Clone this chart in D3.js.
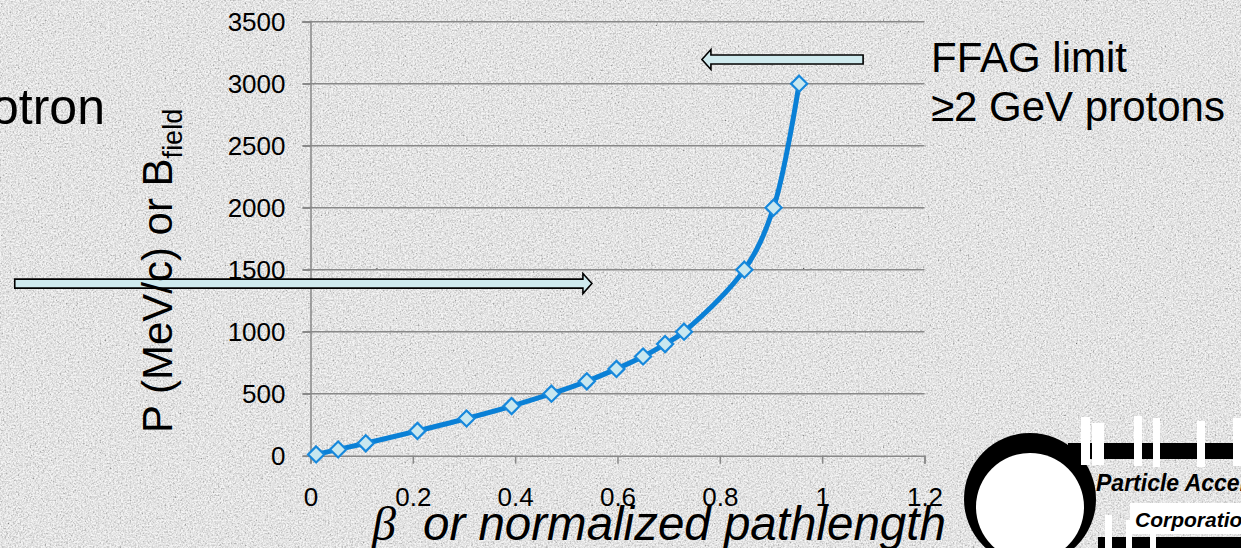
<!DOCTYPE html>
<html>
<head>
<meta charset="utf-8">
<script src="https://cdn.jsdelivr.net/npm/d3@7"></script>
<style>
  html, body { margin: 0; padding: 0; background: #e2e2e2; }
  svg { display: block; }
</style>
</head>
<body>
<svg id="chart" width="1241" height="548"></svg>
<script>
// ---- data ----
const betaValues = [0.011, 0.054, 0.108, 0.209, 0.305, 0.393, 0.471, 0.540, 0.598, 0.650, 0.693, 0.730, 0.848, 0.905, 0.955];
const momentumValues = [10, 50, 100, 200, 300, 400, 500, 600, 700, 800, 900, 1000, 1500, 2000, 3000];
const xTickValues = [0, 0.2, 0.4, 0.6, 0.8, 1.0, 1.2];
const xTickLabels = ["0", "0.2", "0.4", "0.6", "0.8", "1", "1.2"];
const yTickValues = [0, 500, 1000, 1500, 2000, 2500, 3000, 3500];
const yTickLabels = ["0", "500", "1000", "1500", "2000", "2500", "3000", "3500"];
// annotation arrows in data units: [x start, x end (tip), y]
const cyclotronArrow = [-0.578, 0.550, 1388];
const ffagArrow = [1.080, 0.765, 3195];
const ffagLines = ["FFAG limit", "\u22652 GeV protons"];
const leftLabel = "Synchrotron";

// ---- layout ----
const W = 1241, H = 548;
const x = d3.scaleLinear().domain([0, 1.2]).range([310.5, 924.5]);
const y = d3.scaleLinear().domain([0, 3500]).range([455.7, 21.7]);
const FONT = "'Liberation Sans', Arial, sans-serif";

const svg = d3.select("#chart");
const defs = svg.append("defs");

// textured stone-like background
const f = defs.append("filter").attr("id", "grain").attr("x", 0).attr("y", 0).attr("width", "100%").attr("height", "100%");
f.append("feTurbulence").attr("type", "fractalNoise").attr("baseFrequency", 0.6).attr("numOctaves", 3).attr("seed", 7).attr("result", "n");
f.append("feColorMatrix").attr("in", "n").attr("type", "matrix")
  .attr("values", "0.8 0.8 0.8 0 -0.45  0.8 0.8 0.8 0 -0.45  0.8 0.8 0.8 0 -0.45  0 0 0 0 0.6");
svg.append("rect").attr("width", W).attr("height", H).attr("fill", "#e6e6e6");
svg.append("rect").attr("width", W).attr("height", H).attr("filter", "url(#grain)");

// gridlines
svg.append("g").selectAll("line").data(yTickValues.filter(v => v > 0)).join("line")
  .attr("x1", x(0) - 8).attr("x2", x(1.2))
  .attr("y1", d => y(d)).attr("y2", d => y(d))
  .attr("stroke", "#888888").attr("stroke-width", 1.5);

// y axis
const yAxis = d3.axisLeft(y).tickValues(yTickValues).tickFormat((d, i) => yTickLabels[i]).tickSize(8).tickPadding(17);
const gy = svg.append("g").attr("transform", `translate(${x(0)},0)`).call(yAxis);
gy.select(".domain").attr("stroke", "#888888").attr("stroke-width", 1.5);
gy.selectAll(".tick line").attr("stroke", "#888888").attr("stroke-width", 1.5);
gy.selectAll(".tick text").attr("font-family", FONT).attr("font-size", 26).attr("fill", "#000");

// x axis
const xAxis = d3.axisBottom(x).tickValues(xTickValues).tickFormat((d, i) => xTickLabels[i]).tickSize(8).tickPadding(24);
const gx = svg.append("g").attr("transform", `translate(0,${y(0)})`).call(xAxis);
gx.select(".domain").attr("stroke", "#888888").attr("stroke-width", 1.5);
gx.selectAll(".tick line").attr("stroke", "#888888").attr("stroke-width", 1.5);
gx.selectAll(".tick text").attr("font-family", FONT).attr("font-size", 26).attr("fill", "#000");

// series line (smoothed)
const pts = betaValues.map((b, i) => [b, momentumValues[i]]);
const line = d3.line().x(d => x(d[0])).y(d => y(d[1])).curve(d3.curveCatmullRom.alpha(0.5));
svg.append("path").attr("d", line(pts)).attr("fill", "none")
  .attr("stroke", "#0a80d6").attr("stroke-width", 5).attr("stroke-linejoin", "round");

// diamond markers
const diamond = d3.symbol().type(d3.symbolDiamond2).size(165);
svg.append("g").selectAll("path").data(pts).join("path")
  .attr("d", diamond)
  .attr("transform", d => `translate(${x(d[0])},${y(d[1])})`)
  .attr("fill", "#c8e7ef").attr("stroke", "#1688dc").attr("stroke-width", 2.2);

// block arrows
function blockArrow(a) {
  const x0 = x(a[0]), x1 = x(a[1]), yc = y(a[2]);
  const dir = x1 > x0 ? 1 : -1;
  const bh = 4.5, hh = 10, hl = 9;
  const xb = x1 - dir * hl;
  return `M${x0},${yc - bh} L${xb},${yc - bh} L${xb},${yc - hh} L${x1},${yc} L${xb},${yc + hh} L${xb},${yc + bh} L${x0},${yc + bh} Z`;
}
svg.append("path").attr("d", blockArrow(cyclotronArrow))
  .attr("fill", "#cfeaee").attr("stroke", "#000").attr("stroke-width", 1.6).attr("stroke-linejoin", "miter");
svg.append("path").attr("d", blockArrow(ffagArrow))
  .attr("fill", "#cfeaee").attr("stroke", "#000").attr("stroke-width", 1.6).attr("stroke-linejoin", "miter");

// y axis title
const yt = svg.append("text").attr("transform", "translate(172,433) rotate(-90)")
  .attr("font-family", FONT).attr("font-size", 42).attr("fill", "#000");
yt.append("tspan").text("P (MeV/c) or B");
yt.append("tspan").attr("font-size", 27).attr("dy", 10).text("field");

// x axis title
svg.append("text").attr("x", 372).attr("y", 540)
  .attr("font-family", "'Liberation Serif', 'DejaVu Serif', serif").attr("font-style", "italic")
  .attr("font-size", 48).attr("fill", "#000").text("\u03B2");
svg.append("text").attr("x", 423).attr("y", 540)
  .attr("font-family", FONT).attr("font-style", "italic")
  .attr("font-size", 47.5).attr("fill", "#000").text("or normalized pathlength");

// annotation texts
svg.append("g").selectAll("text").data(ffagLines).join("text")
  .attr("x", 931).attr("y", (d, i) => 72 + i * 49)
  .attr("font-family", FONT).attr("font-size", 42).attr("fill", "#000").text(d => d);
svg.append("text").attr("x", 105).attr("y", 124).attr("text-anchor", "end")
  .attr("font-family", FONT).attr("font-size", 50).attr("fill", "#000").text(leftLabel);

// company logo (bottom right)
const logo = svg.append("g");
logo.append("rect").attr("x", 1068).attr("y", 443).attr("width", 180).attr("height", 16).attr("fill", "#000");
logo.append("rect").attr("x", 1098).attr("y", 537).attr("width", 150).attr("height", 13).attr("fill", "#000");
logo.append("circle").attr("cx", 1030).attr("cy", 499).attr("r", 66).attr("fill", "#000");
logo.append("circle").attr("cx", 1030).attr("cy", 507).attr("r", 54).attr("fill", "#fff");
const stripes = [[1081, 417, 9, 48], [1092, 423, 12, 42], [1134, 416, 8, 50], [1153, 418, 7, 49], [1197, 421, 8, 46], [1233, 418, 8, 48],
                 [1105, 515, 7, 40], [1126, 520, 6, 35], [1150, 525, 6, 30]];
logo.selectAll("rect.s").data(stripes).join("rect").attr("class", "s")
  .attr("x", d => d[0]).attr("y", d => d[1]).attr("width", d => d[2]).attr("height", d => d[3]).attr("fill", "#fff");
logo.append("rect").attr("x", 1130).attr("y", 503).attr("width", 120).attr("height", 31).attr("fill", "#fff");
logo.append("text").attr("x", 1096).attr("y", 491)
  .attr("font-family", FONT).attr("font-style", "italic").attr("font-weight", "bold")
  .attr("font-size", 23).attr("fill", "#000").text("Particle Accelerator");
logo.append("text").attr("x", 1135).attr("y", 527)
  .attr("font-family", FONT).attr("font-style", "italic").attr("font-weight", "bold")
  .attr("font-size", 21).attr("fill", "#000").text("Corporation");
</script>
</body>
</html>
